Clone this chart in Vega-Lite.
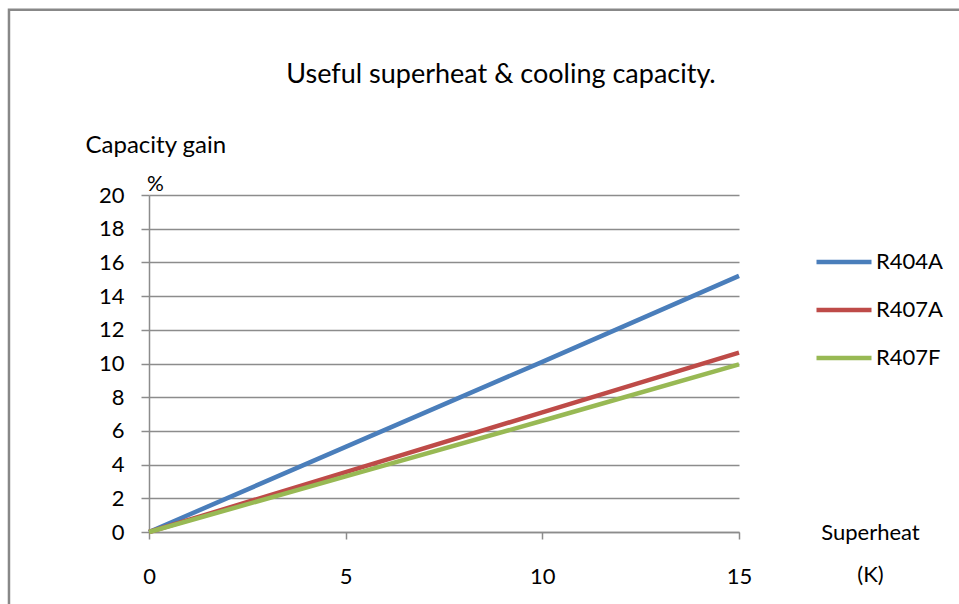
{
  "$schema": "https://vega.github.io/schema/vega-lite/v6.json",
  "width": 590,
  "height": 337,
  "autosize": {"type": "none"},
  "padding": {"left": 149, "top": 195, "right": 220, "bottom": 72},
  "background": "white",
  "config": {
    "view": {"stroke": null},
    "font": "Lato",
    "axis": {"labelColor": "#000", "titleColor": "#000", "labelFont": "Lato", "titleFont": "Lato", "titleFontWeight": "normal"}
  },
  "title": {
    "text": "Useful superheat & cooling capacity.",
    "fontSize": 27,
    "fontWeight": "normal",
    "color": "#000",
    "font": "Lato",
    "anchor": "middle",
    "frame": "group",
    "dx": 57,
    "offset": 0,
    "dy": 81
  },
  "datasets": {
    "series": [
      {"superheat": 0, "gain": 0, "refrigerant": "R404A"},
      {"superheat": 5, "gain": 5.05, "refrigerant": "R404A"},
      {"superheat": 10, "gain": 10.1, "refrigerant": "R404A"},
      {"superheat": 15, "gain": 15.2, "refrigerant": "R404A"},
      {"superheat": 0, "gain": 0, "refrigerant": "R407A"},
      {"superheat": 5, "gain": 3.55, "refrigerant": "R407A"},
      {"superheat": 10, "gain": 7.1, "refrigerant": "R407A"},
      {"superheat": 15, "gain": 10.65, "refrigerant": "R407A"},
      {"superheat": 0, "gain": 0, "refrigerant": "R407F"},
      {"superheat": 5, "gain": 3.3, "refrigerant": "R407F"},
      {"superheat": 10, "gain": 6.6, "refrigerant": "R407F"},
      {"superheat": 15, "gain": 9.95, "refrigerant": "R407F"}
    ]
  },
  "layer": [
    {
      "data": {"values": [{"k": 1}]},
      "mark": {"type": "rect", "fill": null, "stroke": "#888888", "strokeWidth": 2.5, "clip": false},
      "encoding": {
        "x": {
          "datum": -3.56, "type": "quantitative",
          "scale": {"domain": [0, 15], "nice": false, "zero": false},
          "axis": {
            "tickCount": 3, "grid": false,
            "domainColor": "#8c8c8c", "domainWidth": 1.5,
            "tickColor": "#8c8c8c", "tickWidth": 1.5, "tickSize": 7,
            "labelFontSize": 22, "labelPadding": 27, "labelFlush": false, "labelOverlap": false,
            "title": ["Superheat", "(K)"], "titleFontSize": 22, "titleLineHeight": 42,
            "titleX": 721, "titleY": 0, "titleAlign": "center", "titleBaseline": "middle", "titleAnchor": null
          }
        },
        "x2": {"datum": 40},
        "y": {
          "datum": 31, "type": "quantitative",
          "scale": {"domain": [0, 20], "nice": false},
          "axis": {
            "tickCount": 10,
            "grid": true, "gridColor": "#8c8c8c", "gridWidth": 1.5,
            "domainColor": "#8c8c8c", "domainWidth": 1.5,
            "tickColor": "#8c8c8c", "tickWidth": 1.5, "tickSize": 8,
            "labelFontSize": 22, "labelPadding": 17, "labelOverlap": false,
            "title": "Capacity gain", "titleFontSize": 24, "titleAngle": 0,
            "titleX": -64, "titleY": -50, "titleAlign": "left", "titleBaseline": "middle"
          }
        },
        "y2": {"datum": -15}
      }
    },
    {
      "data": {"name": "series"},
      "mark": {"type": "line", "strokeWidth": 4.5, "clip": false},
      "encoding": {
        "x": {
          "field": "superheat", "type": "quantitative",
          "scale": {"domain": [0, 15], "nice": false, "zero": false},
          "axis": {
            "tickCount": 3, "grid": false,
            "domainColor": "#8c8c8c", "domainWidth": 1.5,
            "tickColor": "#8c8c8c", "tickWidth": 1.5, "tickSize": 7,
            "labelFontSize": 22, "labelPadding": 27, "labelFlush": false, "labelOverlap": false,
            "title": ["Superheat", "(K)"], "titleFontSize": 22, "titleLineHeight": 42,
            "titleX": 721, "titleY": 0, "titleAlign": "center", "titleBaseline": "middle", "titleAnchor": null
          }
        },
        "y": {
          "field": "gain", "type": "quantitative",
          "scale": {"domain": [0, 20], "nice": false},
          "axis": {
            "tickCount": 10,
            "grid": true, "gridColor": "#8c8c8c", "gridWidth": 1.5,
            "domainColor": "#8c8c8c", "domainWidth": 1.5,
            "tickColor": "#8c8c8c", "tickWidth": 1.5, "tickSize": 8,
            "labelFontSize": 22, "labelPadding": 17, "labelOverlap": false,
            "title": "Capacity gain", "titleFontSize": 24, "titleAngle": 0,
            "titleX": -64, "titleY": -50, "titleAlign": "left", "titleBaseline": "middle"
          }
        },
        "color": {
          "field": "refrigerant", "type": "nominal",
          "scale": {"domain": ["R404A", "R407A", "R407F"], "range": ["#4a7ebb", "#be4b48", "#98b954"]},
          "legend": {
            "title": null, "orient": "none", "legendX": 665, "legendY": 37,
            "symbolType": "stroke", "symbolSize": 3025, "symbolStrokeWidth": 4.5,
            "labelFontSize": 22, "labelColor": "#000", "labelFont": "Lato", "labelOffset": 2, "rowPadding": 7
          }
        },
        "order": {"field": "refrigerant"}
      }
    },
    {
      "data": {"values": [{"superheat": 0, "gain": 20, "t": "%"}]},
      "mark": {"type": "text", "align": "left", "baseline": "alphabetic", "dx": -2, "dy": -4, "fontSize": 21, "font": "Lato", "color": "#000"},
      "encoding": {
        "x": {"field": "superheat", "type": "quantitative"},
        "y": {"field": "gain", "type": "quantitative"},
        "text": {"field": "t"}
      }
    }
  ]
}
